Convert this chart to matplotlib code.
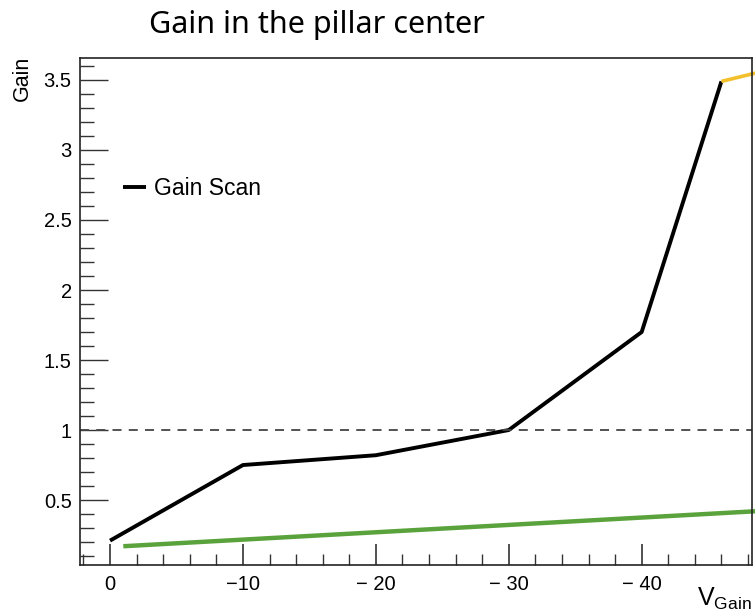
import matplotlib
matplotlib.use("Agg")
import matplotlib.pyplot as plt
from matplotlib.ticker import MultipleLocator

# Gain scan data
v_gain = [0, -10, -20, -30, -40, -46]
gain = [0.21, 0.75, 0.82, 1.0, 1.7, 3.49]

# yellow continuation after last scan point
v_ext = [-46, -48.6]
gain_ext = [3.49, 3.55]

# green reference line
v_ref = [-1, -48.6]
gain_ref = [0.17, 0.42]

xticks = [0, -10, -20, -30, -40]
xticklabels = ["0", "\u221210", "\u2212 20", "\u2212 30", "\u2212 40"]

plt.rcParams["font.family"] = ["Liberation Sans", "DejaVu Sans"]
plt.rcParams["mathtext.fontset"] = "custom"
plt.rcParams["mathtext.rm"] = "Liberation Sans"

fig = plt.figure(figsize=(7.55, 6.14), dpi=100)
ax = fig.add_axes([80 / 755, 1 - 565 / 614, 672 / 755, 507 / 614])

ax.plot(v_gain, gain, color="black", lw=2.8, label="Gain Scan", solid_capstyle="butt")
ax.plot(v_ext, gain_ext, color="#f3bf2a", lw=2.6, clip_on=False, solid_capstyle="butt")
ax.plot(v_ref, gain_ref, color="#5aa33c", lw=3.2, clip_on=False, solid_capstyle="butt")
ax.axhline(1.0, color="#444444", lw=1.3, ls=(0, (5, 4)))

ax.set_xlim(2.26, -48.3)
ax.set_ylim(0.036, 3.657)

ax.set_xticks(xticks)
ax.set_xticklabels(xticklabels)
ax.xaxis.set_minor_locator(MultipleLocator(2))
ax.yaxis.set_minor_locator(MultipleLocator(0.1))
ax.set_yticks([0.5, 1, 1.5, 2, 2.5, 3, 3.5])
ax.set_yticklabels(["0.5", "1", "1.5", "2", "2.5", "3", "3.5"])

ax.tick_params(axis="both", which="both", direction="in", top=False, right=False,
               labelsize=14.5, color="#333333")
ax.tick_params(axis="x", which="major", length=15, width=1.2, pad=7)
ax.tick_params(axis="x", which="minor", length=8, width=1)
ax.tick_params(axis="y", which="major", length=20, width=1, pad=6)
ax.tick_params(axis="y", which="minor", length=10, width=1)
for s in ax.spines.values():
    s.set_color("#222222")
    s.set_linewidth(1.2)

ax.legend(loc="upper left", bbox_to_anchor=(0.033, 0.805), frameon=False,
          fontsize=16.5, handlelength=1.0, handletextpad=0.35)

fig.text(317 / 755, 1 - 25 / 614, "Gain in the pillar center", family="Noto Sans",
         fontsize=22, ha="center", va="center")
fig.text(22 / 755, 1 - 56 / 614, "Gain", rotation=90, ha="center", va="top", fontsize=15.5)
fig.text(752 / 755, 1 - 612 / 614, r"$\mathrm{V}_{\mathrm{Gain}}$", ha="right",
         va="bottom", fontsize=18)

fig.savefig("out.png", dpi=100)
